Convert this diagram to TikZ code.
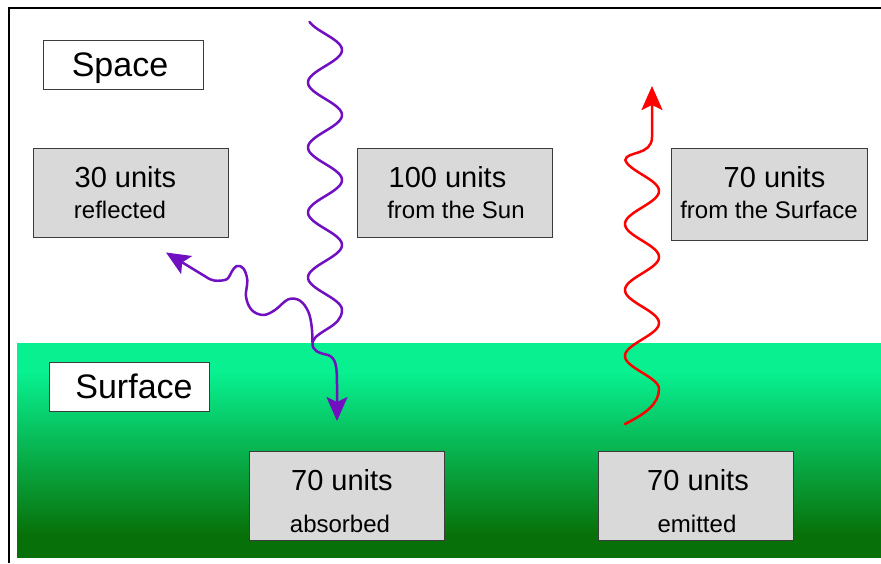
\documentclass[tikz,border=0pt]{standalone}
\usepackage{fontspec}
\setmainfont{Liberation Sans}
\usetikzlibrary{arrows.meta}
\definecolor{boxgray}{RGB}{217,217,217}
\definecolor{boxline}{RGB}{60,60,60}
\definecolor{sunpurple}{RGB}{112,16,192}
\definecolor{earthred}{RGB}{255,0,0}
\definecolor{glight}{RGB}{8,240,144}
\definecolor{gdark}{RGB}{8,112,8}
\pgfdeclareverticalshading{surfshade}{100bp}{color(0bp)=(gdark); color(25bp)=(gdark); color(30bp)=(gdark); color(68bp)=(glight); color(75bp)=(glight); color(100bp)=(glight)}
\begin{document}
\begin{tikzpicture}[x=1pt,y=-1pt,
  namebox/.style={draw=boxline,line width=1pt,fill=white,inner sep=0pt,minimum width=160pt,minimum height=49pt},
  valbox/.style={draw=boxline,line width=1pt,fill=boxgray,inner sep=0pt,minimum width=195pt,minimum height=89pt},
  titletxt/.style={anchor=base,inner sep=0pt,font=\fontsize{34}{40}\selectfont},
  bigtxt/.style={anchor=base,inner sep=0pt,font=\fontsize{29}{35}\selectfont},
  smalltxt/.style={anchor=base,inner sep=0pt,font=\fontsize{24}{29}\selectfont},
  wave/.style={draw=sunpurple,line width=2.5pt,line cap=round,line join=round},
  redwave/.style={draw=earthred,line width=2.5pt,line cap=round,line join=round},
  tip/.style={-{Stealth[length=24pt,width=21pt,inset=5pt]}}
]
\useasboundingbox (0,0) rectangle (881,563);
\fill[white] (0,0) rectangle (881,563);
% frame
\draw[line width=2pt] (9,563) -- (9,7.5) -- (881,7.5);
% surface
\shade[shading=surfshade] (17,343) rectangle (881,557);

% boxes
\node[namebox] (space) at (123,64.5) {};
\node[titletxt] (spacet) at (120,76) {Space};

\node[valbox] (refl) at (130.5,192.5) {};
\node[bigtxt] (refl1) at (125.5,187) {30 units};
\node[smalltxt] (refl2) at (120,218) {reflected};

\node[valbox] (sun) at (454.5,192.5) {};
\node[bigtxt] (sun1) at (447.5,187) {100 units};
\node[smalltxt] (sun2) at (456,218) {from the Sun};

\node[valbox,minimum width=196pt,minimum height=92pt] (fsurf) at (769,194) {};
\node[bigtxt] (fsurf1) at (774.5,187) {70 units};
\node[smalltxt] (fsurf2) at (769,218) {from the Surface};

\node[namebox] (surf) at (129,386.5) {};
\node[titletxt] (surft) at (134,398) {Surface};

\node[valbox] (abs) at (346.5,495.5) {};
\node[bigtxt] (abs1) at (342,490) {70 units};
\node[smalltxt] (abs2) at (340,532) {absorbed};

\node[valbox] (emit) at (695.5,495.5) {};
\node[bigtxt] (emit1) at (698,490) {70 units};
\node[smalltxt] (emit2) at (697,532) {emitted};

% sun wave
\coordinate (ss) at (309.6,22);
\coordinate (J) at (312.5,342);
\coordinate (abst) at (337,421);
\coordinate (reflt) at (166,252.5);
\draw[wave] (ss) -- plot[domain=22:310,samples=180] ({325+17*sin(5.53846*(\x-33.75))},\x)
  .. controls (342,327) and (317,330) .. (J);
% absorbed branch
\draw[wave,tip] (J) .. controls (311.5,351) and (319,353) .. (328,355)
  .. controls (336,358) and (337,366) .. (337,385) -- (abst);
% reflected branch
\draw[wave,tip] plot[smooth,tension=0.6] coordinates {(J) (311.7,326.7) (308.3,311.7) (300,300.7) (288.3,299.3) (275,310) (263.3,315) (251.7,310) (246,296.7) (247.3,280) (243.3,268.3) (236.7,266) (231.7,271.7) (226.7,279.3) (215,280.7) (208.3,278.3)} -- (reflt);

% red wave
\coordinate (rs) at (625,424);
\coordinate (rt) at (652,86);
\draw[redwave,tip] (rs) .. controls (645,414) and (659,404) .. (659,389)
  -- plot[domain=389:160,samples=160] ({642+17*cos(5.454545*(\x-323))},\x)
  .. controls (626,151) and (652,156) .. (652,137) -- (rt);
\end{tikzpicture}
\end{document}
